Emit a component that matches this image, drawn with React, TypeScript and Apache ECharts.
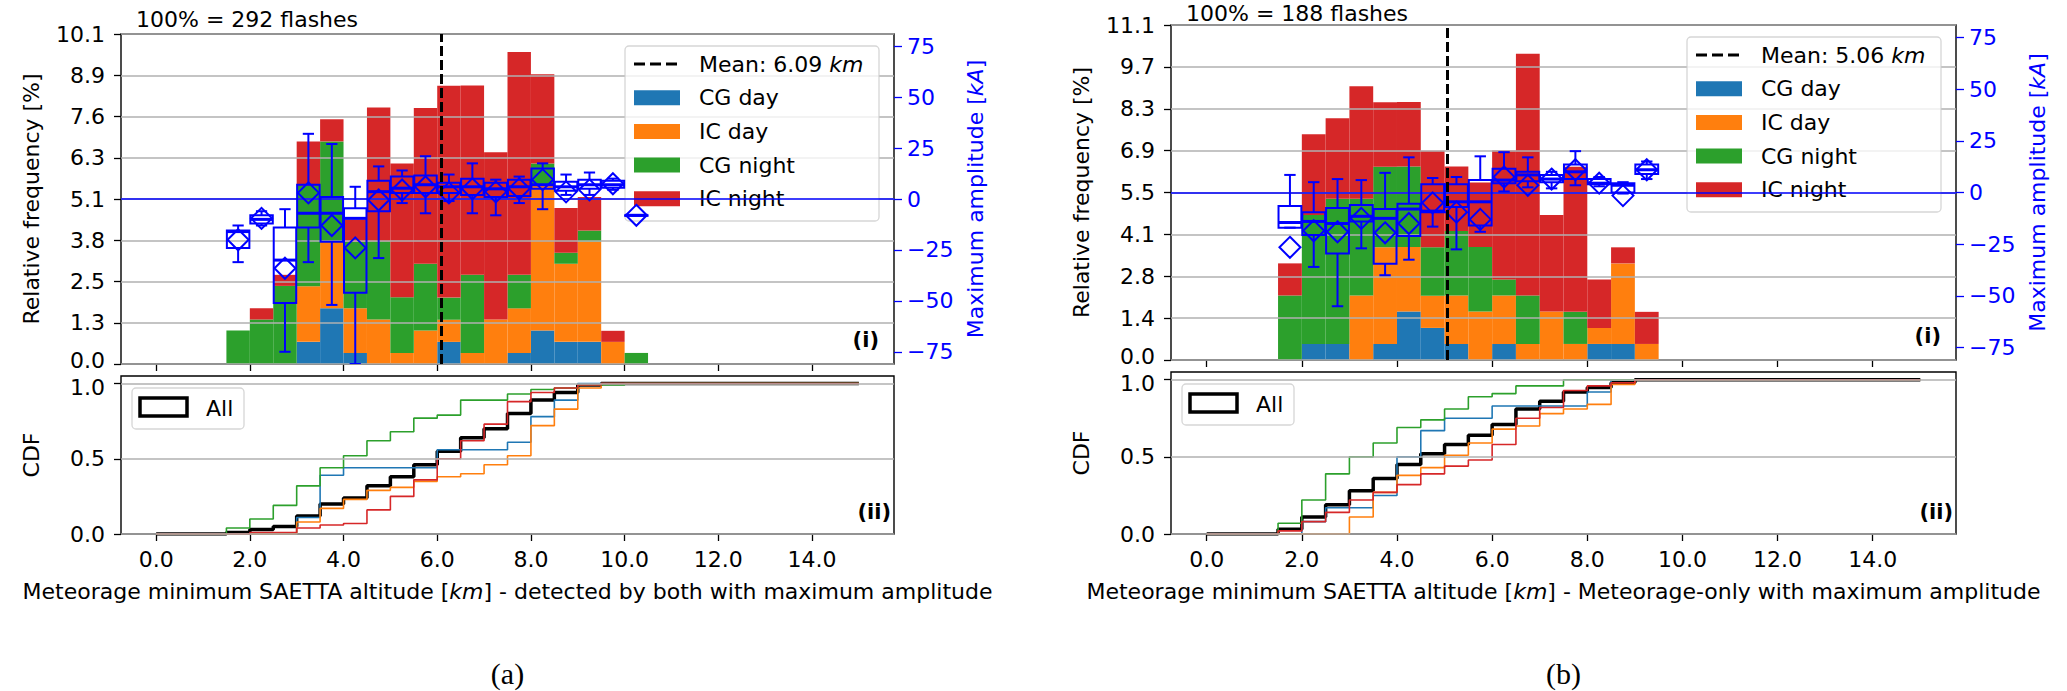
import { useEffect, useRef } from 'react';
import * as echarts from 'echarts';

const COLORS = ['#1f77b4', '#ff7f0e', '#2ca02c', '#d62728'];
const CATS = ['CG day', 'IC day', 'CG night', 'IC night'];
const BLUE = '#0000ff';
const FONT = 'DejaVu Sans';
const BIN = 0.5;
const X_TICKS = [0, 2, 4, 6, 8, 10, 12, 14];
const KA_TICKS = [-75, -50, -25, 0, 25, 50, 75];
const CDF_TICKS = [0, 0.5, 1];
const CDF_RANGE = [0, 15];

// ---- panel (a): detected by both ----
const flashesA = 292;
const meanA = 6.09;
const yMaxA = 10.14;
const binsA = [1.5, 2, 2.5, 3, 3.5, 4, 4.5, 5, 5.5, 6, 6.5, 7, 7.5, 8, 8.5, 9, 9.5, 10];
const cgDayA = [0, 0, 0, 0.68, 1.71, 0.34, 0, 0, 0, 0.68, 0, 0, 0.34, 1.03, 0.68, 0.68, 0, 0];
const icDayA = [0, 0, 0, 1.71, 2.05, 1.37, 1.37, 0.34, 1.03, 0.68, 0.34, 1.37, 1.37, 4.45, 2.4, 3.08, 0.68, 0];
const cgNightA = [1.03, 1.37, 2.4, 3.08, 3.08, 2.05, 2.4, 1.71, 2.05, 0.68, 2.4, 0, 1.03, 0.68, 0.34, 0.34, 0, 0.34];
const icNightA = [0, 0.34, 0.34, 1.37, 0.68, 0.68, 4.11, 4.11, 4.79, 6.51, 5.82, 5.14, 6.85, 2.74, 1.37, 1.03, 0.34, 0];
const cdfAllA = [0.01, 0.03, 0.05, 0.12, 0.2, 0.24, 0.32, 0.38, 0.46, 0.55, 0.64, 0.7, 0.8, 0.89, 0.94, 0.99, 1, 1];
const cdfCgDayA = [0, 0, 0, 0.11, 0.39, 0.44, 0.44, 0.44, 0.44, 0.56, 0.56, 0.56, 0.61, 0.78, 0.89, 1, 1, 1];
const cdfIcDayA = [0, 0, 0, 0.08, 0.17, 0.23, 0.29, 0.31, 0.35, 0.38, 0.4, 0.46, 0.52, 0.72, 0.83, 0.97, 1, 1];
const cdfCgNightA = [0.04, 0.1, 0.19, 0.32, 0.44, 0.52, 0.62, 0.68, 0.77, 0.79, 0.89, 0.89, 0.93, 0.96, 0.97, 0.99, 0.99, 1];
const cdfIcNightA = [0, 0.01, 0.01, 0.04, 0.06, 0.07, 0.16, 0.25, 0.36, 0.5, 0.62, 0.73, 0.88, 0.94, 0.97, 0.99, 1, 1];
// [position, low whisker, q1, median, q3, high whisker, mean] in kA
const boxesA = [
  [1.75, -31, -24, -16, -15.5, -13, -20],
  [2.25, -13, -12, -10, -8, -6, -9.5],
  [2.75, -75, -51, -30, -14, -5, -34],
  [3.25, -31, -14, -7, 7, 32, 3],
  [3.75, -52, -21, -7, 1, 27, -13],
  [4.25, -81, -46, -9.5, -4.5, 6, -24],
  [4.75, -29, -6, 3.6, 9, 16, -0.5],
  [5.25, -2, 3, 5.3, 11, 14, 4.4],
  [5.75, -7, 3, 7, 11.5, 21, 6],
  [6.25, -1, 3, 6, 8, 12, 3],
  [6.75, -7, 2, 6, 10, 17.5, 5],
  [7.25, -8, 1, 5, 8, 9.5, 3.5],
  [7.75, -2, 1.5, 6, 9.5, 11, 5],
  [8.25, -5, 5, 7, 15, 17.5, 9.5],
  [8.75, 2, 4, 6, 8.5, 12, 3.5],
  [9.25, 2, 5, 7, 9.5, 13, 4.5],
  [9.75, 4.5, 5.5, 7, 9, 10, 7.5],
  [10.25, -8, -8, -8, -8, -8, -8],
];

// ---- panel (b): Meteorage-only ----
const flashesB = 188;
const meanB = 5.06;
const yMaxB = 11.06;
const binsB = [1.5, 2, 2.5, 3, 3.5, 4, 4.5, 5, 5.5, 6, 6.5, 7, 7.5, 8, 8.5, 9];
const cgDayB = [0, 0.53, 0.53, 0, 0.53, 1.6, 1.06, 0.53, 0, 0.53, 0, 0, 0, 0.53, 0.53, 0];
const icDayB = [0, 0, 0, 2.13, 3.19, 2.13, 1.06, 1.6, 1.6, 1.6, 0.53, 1.6, 0.53, 0.53, 2.66, 0.53];
const cgNightB = [2.13, 4.26, 4.79, 3.19, 2.66, 2.66, 1.6, 2.13, 2.13, 0.53, 1.6, 0, 1.06, 0, 0, 0];
const icNightB = [1.06, 2.66, 2.66, 3.72, 2.13, 2.13, 3.19, 2.13, 2.13, 4.26, 7.98, 3.19, 4.79, 1.6, 0.53, 1.06];
const cdfAllB = [0.03, 0.11, 0.19, 0.28, 0.36, 0.45, 0.52, 0.58, 0.64, 0.71, 0.81, 0.86, 0.92, 0.95, 0.98, 1];
const cdfCgDayB = [0, 0.08, 0.17, 0.17, 0.25, 0.5, 0.67, 0.75, 0.75, 0.83, 0.83, 0.83, 0.83, 0.92, 1, 1];
const cdfIcDayB = [0, 0, 0, 0.11, 0.27, 0.38, 0.43, 0.51, 0.59, 0.68, 0.7, 0.78, 0.81, 0.84, 0.97, 1];
const cdfCgNightB = [0.07, 0.22, 0.39, 0.5, 0.59, 0.69, 0.74, 0.81, 0.89, 0.91, 0.96, 0.96, 1, 1, 1, 1];
const cdfIcNightB = [0.02, 0.08, 0.14, 0.22, 0.27, 0.32, 0.39, 0.44, 0.48, 0.58, 0.75, 0.82, 0.93, 0.96, 0.98, 1];
const boxesB = [
  [1.75, -17, -17, -14.5, -6.5, 8.5, -26.5],
  [2.25, -36, -20.5, -14, -9.5, 5, -18.5],
  [2.75, -55, -29.5, -15, -7.5, 6.5, -19],
  [3.25, -27, -14, -11.5, -6, 6, -12.5],
  [3.75, -40, -34.5, -12.5, -8, 9.5, -19.5],
  [4.25, -32.5, -21, -8, -5.5, 17, -15],
  [4.75, -16.5, -9.5, -9, 4, 7, -5],
  [5.25, -27.5, -7, -4.5, 4, 7.5, -9.5],
  [5.75, -19, -16, -4.5, 6, 17.5, -13],
  [6.25, 0.5, 4.5, 6, 11.5, 19.5, 7.5],
  [6.75, 2.5, 5.5, 8.5, 10, 17, 3.5],
  [7.25, 2, 5, 6.5, 8.5, 10, 6.5],
  [7.75, 3.5, 6.5, 10, 13.5, 20, 11],
  [8.25, 3, 4, 4.5, 6.5, 7.5, 4.5],
  [8.75, -0.5, 0, 3.5, 4.5, 5, -1.5],
  [9.25, 6.5, 9, 11, 13.5, 15, 11],
];

const panels = [
  {
    bins: binsA, stacks: [cgDayA, icDayA, cgNightA, icNightA],
    cdfs: [cdfCgDayA, cdfIcDayA, cdfCgNightA, cdfIcNightA], cdfAll: cdfAllA,
    boxes: boxesA, mean: meanA, flashes: flashesA, yMax: yMaxA,
    xTitle: ' - detected by both with maximum amplitude', caption: '(a)',
  },
  {
    bins: binsB, stacks: [cgDayB, icDayB, cgNightB, icNightB],
    cdfs: [cdfCgDayB, cdfIcDayB, cdfCgNightB, cdfIcNightB], cdfAll: cdfAllB,
    boxes: boxesB, mean: meanB, flashes: flashesB, yMax: yMaxB,
    xTitle: ' - Meteorage-only with maximum amplitude', caption: '(b)',
  },
];

// pixel frames of the two panels
const frames = [
  { left: 121, right: 894, top: 34, bottom: 364, cdfTop: 376, cdfBottom: 534 },
  { left: 1171, right: 1956, top: 25, bottom: 360, cdfTop: 372, cdfBottom: 534 },
];

const txt = { fontFamily: FONT, fontSize: 22, color: '#000' };
const italic = { fontFamily: FONT, fontSize: 22, fontStyle: 'italic' as const };
const minus = (v: number) => (v < 0 ? '\u2212' + -v : String(v));
const noLine = { show: false, onZero: false };

function buildOption() {
  const grid: any[] = [];
  const xAxis: any[] = [];
  const yAxis: any[] = [];
  const series: any[] = [];
  const graphic: any[] = [];

  panels.forEach((p, i) => {
    const f = frames[i];
    const w = f.right - f.left;
    grid.push(
      { left: f.left, top: f.top, width: w, height: f.bottom - f.top, show: true, borderColor: '#000', borderWidth: 1.4 },
      { left: f.left, top: f.cdfTop, width: w, height: f.cdfBottom - f.cdfTop, show: true, borderColor: '#000', borderWidth: 1.4 },
    );
    const xBase = {
      type: 'value', min: -0.75, max: 15.75,
      axisLine: noLine,
      axisTick: { show: true, customValues: X_TICKS, length: 7, lineStyle: { color: '#000', width: 1.3 } },
      splitLine: { show: false },
    };
    xAxis.push(
      { ...xBase, gridIndex: 2 * i, axisLabel: { show: false, customValues: X_TICKS } },
      {
        ...xBase, gridIndex: 2 * i + 1,
        axisLabel: { show: true, customValues: X_TICKS, formatter: (v: number) => v.toFixed(1), margin: 14, ...txt },
        name: `{n|Meteorage minimum SAETTA altitude [}{i|km}{n|]${p.xTitle}}`,
        nameLocation: 'middle', nameGap: 46,
        nameTextStyle: { ...txt, rich: { n: txt, i: italic } },
      },
    );
    yAxis.push(
      {
        type: 'value', gridIndex: 2 * i, position: 'left', min: 0, max: p.yMax, interval: p.yMax / 8, z: 2,
        axisLine: noLine,
        axisTick: { show: true, length: 7, lineStyle: { color: '#000', width: 1.3 } },
        axisLabel: {
          formatter: (v: number) => (v === 0 ? '{b|0.0}' : v.toFixed(1)), margin: 16, ...txt,
          rich: { b: { ...txt, padding: [0, 0, 7, 0] } },
        },
        splitLine: { show: true, lineStyle: { color: '#b0b0b0', width: 1.6 } },
        name: 'Relative frequency [%]', nameLocation: 'middle', nameGap: 79, nameTextStyle: txt,
      },
      {
        type: 'value', gridIndex: 2 * i, position: 'right', min: -81, max: 81,
        axisLine: noLine,
        axisTick: { show: true, customValues: KA_TICKS, length: 8, lineStyle: { color: BLUE, width: 1.3 } },
        axisLabel: { customValues: KA_TICKS, formatter: minus, margin: 13, ...txt, color: BLUE },
        splitLine: { show: false },
        name: '{n|Maximum amplitude [}{i|kA}{n|]}', nameLocation: 'middle', nameGap: 70,
        nameTextStyle: { ...txt, color: BLUE, rich: { n: { ...txt, color: BLUE }, i: { ...italic, color: BLUE } } },
      },
      {
        type: 'value', gridIndex: 2 * i + 1, min: 0, max: 1.05, interval: 0.5, z: 2,
        axisLine: noLine,
        axisTick: { show: true, customValues: CDF_TICKS, length: 7, lineStyle: { color: '#000', width: 1.3 } },
        axisLabel: {
          customValues: CDF_TICKS, formatter: (v: number) => (v === 1 ? '{t|1.0}' : v.toFixed(1)), margin: 16, ...txt,
          rich: { t: { ...txt, padding: [7, 0, 0, 0] } },
        },
        splitLine: { show: true, lineStyle: { color: '#b0b0b0', width: 1.6 } },
        name: 'CDF', nameLocation: 'middle', nameGap: 79, nameTextStyle: txt,
      },
    );

    // stacked histogram
    const base = p.bins.map(() => 0);
    p.stacks.forEach((vals, c) => {
      const data = p.bins.map((b, k) => {
        const row = [b, base[k], base[k] + vals[k]];
        base[k] += vals[k];
        return row;
      });
      series.push({
        type: 'custom', name: CATS[c], xAxisIndex: 2 * i, yAxisIndex: 3 * i, z: 1,
        encode: { x: 0, y: 2 }, data,
        renderItem: (_: any, api: any) => {
          const x0 = api.value(0);
          const lo = api.value(1);
          const hi = api.value(2);
          if (hi - lo <= 0) return null;
          const a = api.coord([x0, lo]);
          const b = api.coord([x0 + BIN, hi]);
          return {
            type: 'rect',
            shape: { x: a[0], y: b[1], width: b[0] - a[0], height: a[1] - b[1] },
            style: { fill: COLORS[c] },
          };
        },
      });
    });

    // amplitude boxes, zero line and mean line
    series.push({
      type: 'custom', name: 'amplitude', xAxisIndex: 2 * i, yAxisIndex: 3 * i + 1, z: 4, clip: true,
      encode: { x: 0, y: [1, 5] }, data: p.boxes,
      renderItem: (_: any, api: any) => {
        const pos = api.value(0);
        const [xl, yq3] = api.coord([pos - 0.24, api.value(4)]);
        const [xr, yq1] = api.coord([pos + 0.24, api.value(2)]);
        const [xc, ylo] = api.coord([pos, api.value(1)]);
        const yhi = api.coord([pos, api.value(5)])[1];
        const ymed = api.coord([pos, api.value(3)])[1];
        const ym = api.coord([pos, api.value(6)])[1];
        const cap = (xr - xl) / 4;
        const st = { stroke: BLUE, lineWidth: 2, fill: 'none' };
        const d = 10.5;
        return {
          type: 'group',
          children: [
            { type: 'line', shape: { x1: xc, y1: yq1, x2: xc, y2: ylo }, style: st },
            { type: 'line', shape: { x1: xc, y1: yq3, x2: xc, y2: yhi }, style: st },
            { type: 'line', shape: { x1: xc - cap, y1: ylo, x2: xc + cap, y2: ylo }, style: st },
            { type: 'line', shape: { x1: xc - cap, y1: yhi, x2: xc + cap, y2: yhi }, style: st },
            { type: 'rect', shape: { x: xl, y: yq3, width: xr - xl, height: Math.max(yq1 - yq3, 0.5) }, style: st },
            { type: 'line', shape: { x1: xl, y1: ymed, x2: xr, y2: ymed }, style: { stroke: BLUE, lineWidth: 3 } },
            { type: 'polygon', shape: { points: [[xc, ym - d], [xc + d, ym], [xc, ym + d], [xc - d, ym]] }, style: st },
          ],
        };
      },
      markLine: {
        silent: true, symbol: ['none', 'none'], label: { show: false },
        data: [
          { yAxis: 0, lineStyle: { color: BLUE, width: 1.5, type: 'solid' } },
          { xAxis: p.mean, lineStyle: { color: '#000', width: 3, type: [10, 4] } },
        ],
      },
    });

    // CDF step lines
    const cdfLine = (vals: number[], color: string, width: number) => ({
      type: 'line', xAxisIndex: 2 * i + 1, yAxisIndex: 3 * i + 2, z: 1,
      step: 'end', symbol: 'none', lineStyle: { color, width },
      data: [[CDF_RANGE[0], 0], ...p.bins.map((b, k) => [b, vals[k]]), [CDF_RANGE[1], vals[vals.length - 1]]],
    });
    series.push(cdfLine(p.cdfAll, '#000', 3.5));
    p.cdfs.forEach((vals, c) => series.push(cdfLine(vals, COLORS[c], 1.6)));

    // texts and legends
    const lx = f.right - 269;
    const ly = f.top + 12;
    graphic.push(
      { type: 'text', x: f.left + 15, y: Math.max(f.top - 15, 13), z: 3, style: { text: `100% = ${p.flashes} flashes`, font: `22px "${FONT}"`, fill: '#000', textAlign: 'left', textVerticalAlign: 'middle' } },
      { type: 'text', x: f.right - 15, y: f.bottom - 24, z: 3, style: { text: '(i)', font: `bold 21px "${FONT}"`, fill: '#000', textAlign: 'right', textVerticalAlign: 'middle' } },
      { type: 'text', x: f.right - 3, y: f.cdfBottom - 22, z: 3, style: { text: '(ii)', font: `bold 21px "${FONT}"`, fill: '#000', textAlign: 'right', textVerticalAlign: 'middle' } },
      { type: 'text', x: (f.left + f.right) / 2, y: 673, z: 3, style: { text: p.caption, font: '30px "Liberation Serif"', fill: '#000', textAlign: 'center', textVerticalAlign: 'middle' } },
      { type: 'rect', z: 3, shape: { x: lx, y: ly, width: 254, height: 175, r: 4 }, style: { fill: 'rgba(255,255,255,0.8)', stroke: 'rgba(204,204,204,0.8)', lineWidth: 1.3 } },
      { type: 'line', z: 3, shape: { x1: lx + 9, y1: ly + 18, x2: lx + 55, y2: ly + 18 }, style: { stroke: '#000', lineWidth: 3, lineDash: [11, 5] } },
      {
        type: 'text', x: lx + 74, y: ly + 18, z: 3,
        style: { text: `Mean: ${p.mean.toFixed(2)} {i|km}`, fontSize: 22, fontFamily: FONT, fill: '#000', textAlign: 'left', textVerticalAlign: 'middle', rich: { i: { fontSize: 22, fontFamily: FONT, fontStyle: 'italic' } } },
      },
    );
    CATS.forEach((name, c) => {
      const cy = ly + 18 + 33.7 * (c + 1);
      graphic.push(
        { type: 'rect', z: 3, shape: { x: lx + 9, y: cy - 7.5, width: 46, height: 15 }, style: { fill: COLORS[c] } },
        { type: 'text', x: lx + 74, y: cy, z: 3, style: { text: name, font: `22px "${FONT}"`, fill: '#000', textAlign: 'left', textVerticalAlign: 'middle' } },
      );
    });
    const ax = f.left + 11;
    const ay = f.cdfTop + 12;
    graphic.push(
      { type: 'rect', z: 3, shape: { x: ax, y: ay, width: 112, height: 41, r: 4 }, style: { fill: 'rgba(255,255,255,0.8)', stroke: 'rgba(204,204,204,0.8)', lineWidth: 1.3 } },
      { type: 'rect', z: 3, shape: { x: ax + 8, y: ay + 10, width: 47, height: 18 }, style: { fill: 'none', stroke: '#000', lineWidth: 3.5 } },
      { type: 'text', x: ax + 74, y: ay + 20, z: 3, style: { text: 'All', font: `22px "${FONT}"`, fill: '#000', textAlign: 'left', textVerticalAlign: 'middle' } },
    );
  });

  return { animation: false, backgroundColor: '#fff', textStyle: { fontFamily: FONT }, grid, xAxis, yAxis, series, graphic };
}

export default function App() {
  const ref = useRef<HTMLDivElement>(null);

  useEffect(() => {
    document.body.style.margin = '0';
    document.body.style.overflow = 'hidden';
    if (!ref.current) return;
    const chart = echarts.init(ref.current, null, { renderer: 'svg' });
    chart.setOption(buildOption() as any);
    return () => chart.dispose();
  }, []);

  return <div ref={ref} style={{ width: 2067, height: 691 }} />;
}
